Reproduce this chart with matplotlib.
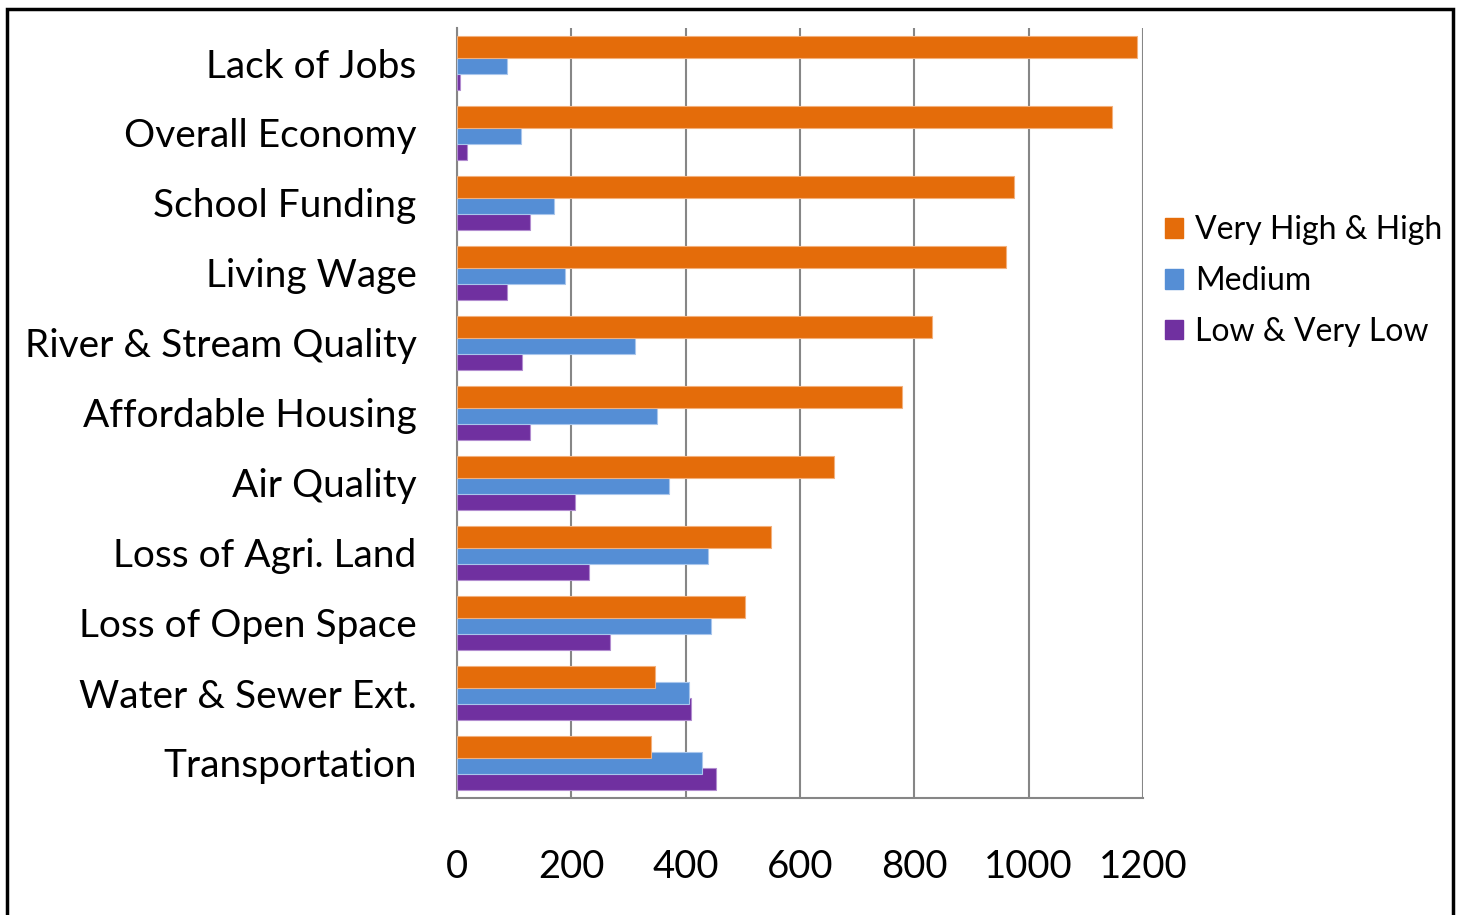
import matplotlib
matplotlib.use('Agg')
import matplotlib.pyplot as plt
import numpy as np
from matplotlib.patches import Patch, Rectangle

plt.rcParams['font.family'] = ['Lato', 'DejaVu Sans']

categories = ['Lack of Jobs', 'Overall Economy', 'School Funding', 'Living Wage',
              'River & Stream Quality', 'Affordable Housing', 'Air Quality',
              'Loss of Agri. Land', 'Loss of Open Space', 'Water & Sewer Ext.',
              'Transportation']
high = [1190, 1145, 974, 961, 831, 779, 659, 550, 504, 346, 340]
medium = [88, 112, 170, 189, 312, 349, 371, 439, 445, 406, 429]
low = [6, 17, 127, 88, 114, 128, 206, 231, 268, 410, 453]
series_names = ['Very High & High', 'Medium', 'Low & Very Low']
colors = ['#E46C0A', '#558ED5', '#7030A0']
edges = ['#F3B07C', '#A9C6EC', '#B28CD0']
xticks = [0, 200, 400, 600, 800, 1000, 1200]

fig = plt.figure(figsize=(14.6, 9.15), dpi=100)
ax = fig.add_axes([457 / 1460, 1 - 798 / 915, (1143 - 457) / 1460, (798 - 28) / 915])

y = np.arange(len(categories))
h = 0.307
step = 0.23
# draw purple first so orange ends up on top
for vals, off, c, e in [(low, step, colors[2], edges[2]),
                        (medium, 0, colors[1], edges[1]),
                        (high, -step, colors[0], edges[0])]:
    ax.barh(y + off, vals, height=h, color=c, edgecolor=e, linewidth=0.8, zorder=3)

ax.set_ylim(len(categories) - 0.5, -0.5)
ax.set_xlim(0, 1200)
ax.set_xticks(xticks)
ax.set_xticklabels([str(t) for t in xticks], fontsize=27.5)
ax.set_yticks(y)
ax.set_yticklabels(categories, fontsize=28)
ax.tick_params(axis='both', length=0)
ax.tick_params(axis='y', pad=29)
ax.tick_params(axis='x', pad=37)
ax.grid(axis='x', color='#868686', linewidth=1.5, zorder=1)
for s in ['top', 'right']:
    ax.spines[s].set_visible(False)
for s in ['left', 'bottom']:
    ax.spines[s].set_color('#868686')
    ax.spines[s].set_linewidth(1.5)

handles = [Patch(facecolor=c, edgecolor=c) for c in colors]
fig.legend(handles, series_names, loc='center left', bbox_to_anchor=(1136 / 1460, 1 - 281 / 915),
           frameon=False, fontsize=23, handlelength=0.57, handleheight=0.57,
           handletextpad=0.37, labelspacing=0.65)

fig.patches.append(Rectangle((7 / 1460, -0.01), (1453 - 7) / 1460, 1 - 9 / 915 + 0.01,
                             transform=fig.transFigure, fill=False, edgecolor='black',
                             linewidth=2.5))

fig.savefig('out.png', dpi=100)
